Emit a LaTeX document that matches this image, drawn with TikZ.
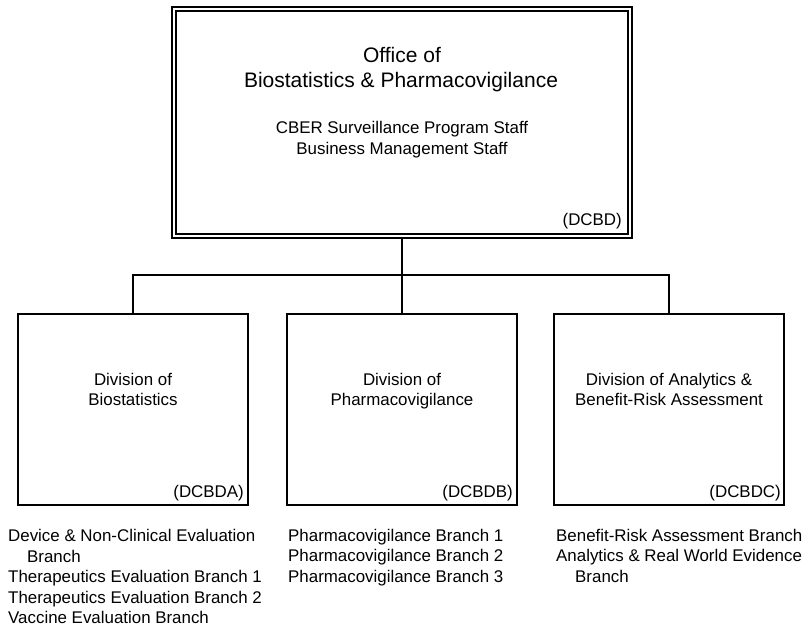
\documentclass[tikz,border=0pt]{standalone}
\usepackage{fontspec}
\setmainfont{Liberation Sans}
\begin{document}
\begin{tikzpicture}[x=1pt,y=-1pt,
  topbox/.style={draw, double, line width=1.6pt, double distance=2pt, minimum width=456pt, minimum height=227pt, inner sep=0pt},
  divbox/.style={draw, line width=1.7pt, minimum width=230pt, minimum height=191pt, inner sep=0pt},
  conn/.style={line width=1.7pt},
  big/.style={font=\fontsize{21}{24}\selectfont, inner sep=0pt, anchor=base},
  mid/.style={font=\fontsize{16.9}{20}\selectfont, inner sep=0pt, anchor=base},
  code/.style={font=\fontsize{16.9}{20}\selectfont, inner sep=0pt, anchor=base east},
  item/.style={font=\fontsize{16.9}{20}\selectfont, inner sep=0pt, anchor=base west}]
\useasboundingbox (0,0) rectangle (808,628);
% boxes
\node[topbox] (top) at (402,122.5) {};
\node[divbox] (b1) at (133,409.5) {};
\node[divbox] (b2) at (402,409.5) {};
\node[divbox] (b3) at (669,409.5) {};
% connectors
\coordinate (bus) at (402,275);
\draw[conn] (top.south) -- (bus);
\draw[conn] (b1.north) |- (bus) -| (b3.north);
\draw[conn] (bus) -- (b2.north);
% top box text
\node[big] (t1) at (402,63) {Office of};
\node[big] (t2) at (401,88) {Biostatistics \& Pharmacovigilance};
\node[mid] (t3) at (402,134) {CBER Surveillance Program Staff};
\node[mid] (t4) at (402,155) {Business Management Staff};
\node[code] (t5) at (622,226) {(DCBD)};
% division texts
\node[mid] (d1a) at (133,385) {Division of};
\node[mid] (d1b) at (133,405) {Biostatistics};
\node[code] (d1c) at (244,497) {(DCBDA)};
\node[mid] (d2a) at (402,385) {Division of};
\node[mid] (d2b) at (402,405) {Pharmacovigilance};
\node[code] (d2c) at (513,497) {(DCBDB)};
\node[mid] (d3a) at (669,385) {Division of Analytics \&};
\node[mid] (d3b) at (669,405) {Benefit-Risk Assessment};
\node[code] (d3c) at (781,497) {(DCBDC)};
% branch lists
\node[item] (l1) at (8,541) {Device \& Non-Clinical Evaluation};
\node[item] (l2) at (27,562) {Branch};
\node[item] (l3) at (8,582.5) {Therapeutics Evaluation Branch 1};
\node[item] (l4) at (8,603) {Therapeutics Evaluation Branch 2};
\node[item] (l5) at (8,623) {Vaccine Evaluation Branch};
\node[item] (m1) at (288,541) {Pharmacovigilance Branch 1};
\node[item] (m2) at (288,561.5) {Pharmacovigilance Branch 2};
\node[item] (m3) at (288,582) {Pharmacovigilance Branch 3};
\node[item] (r1) at (556,541) {Benefit-Risk Assessment Branch};
\node[item] (r2) at (556,561.5) {Analytics \& Real World Evidence};
\node[item] (r3) at (575,582) {Branch};
\end{tikzpicture}
\end{document}
